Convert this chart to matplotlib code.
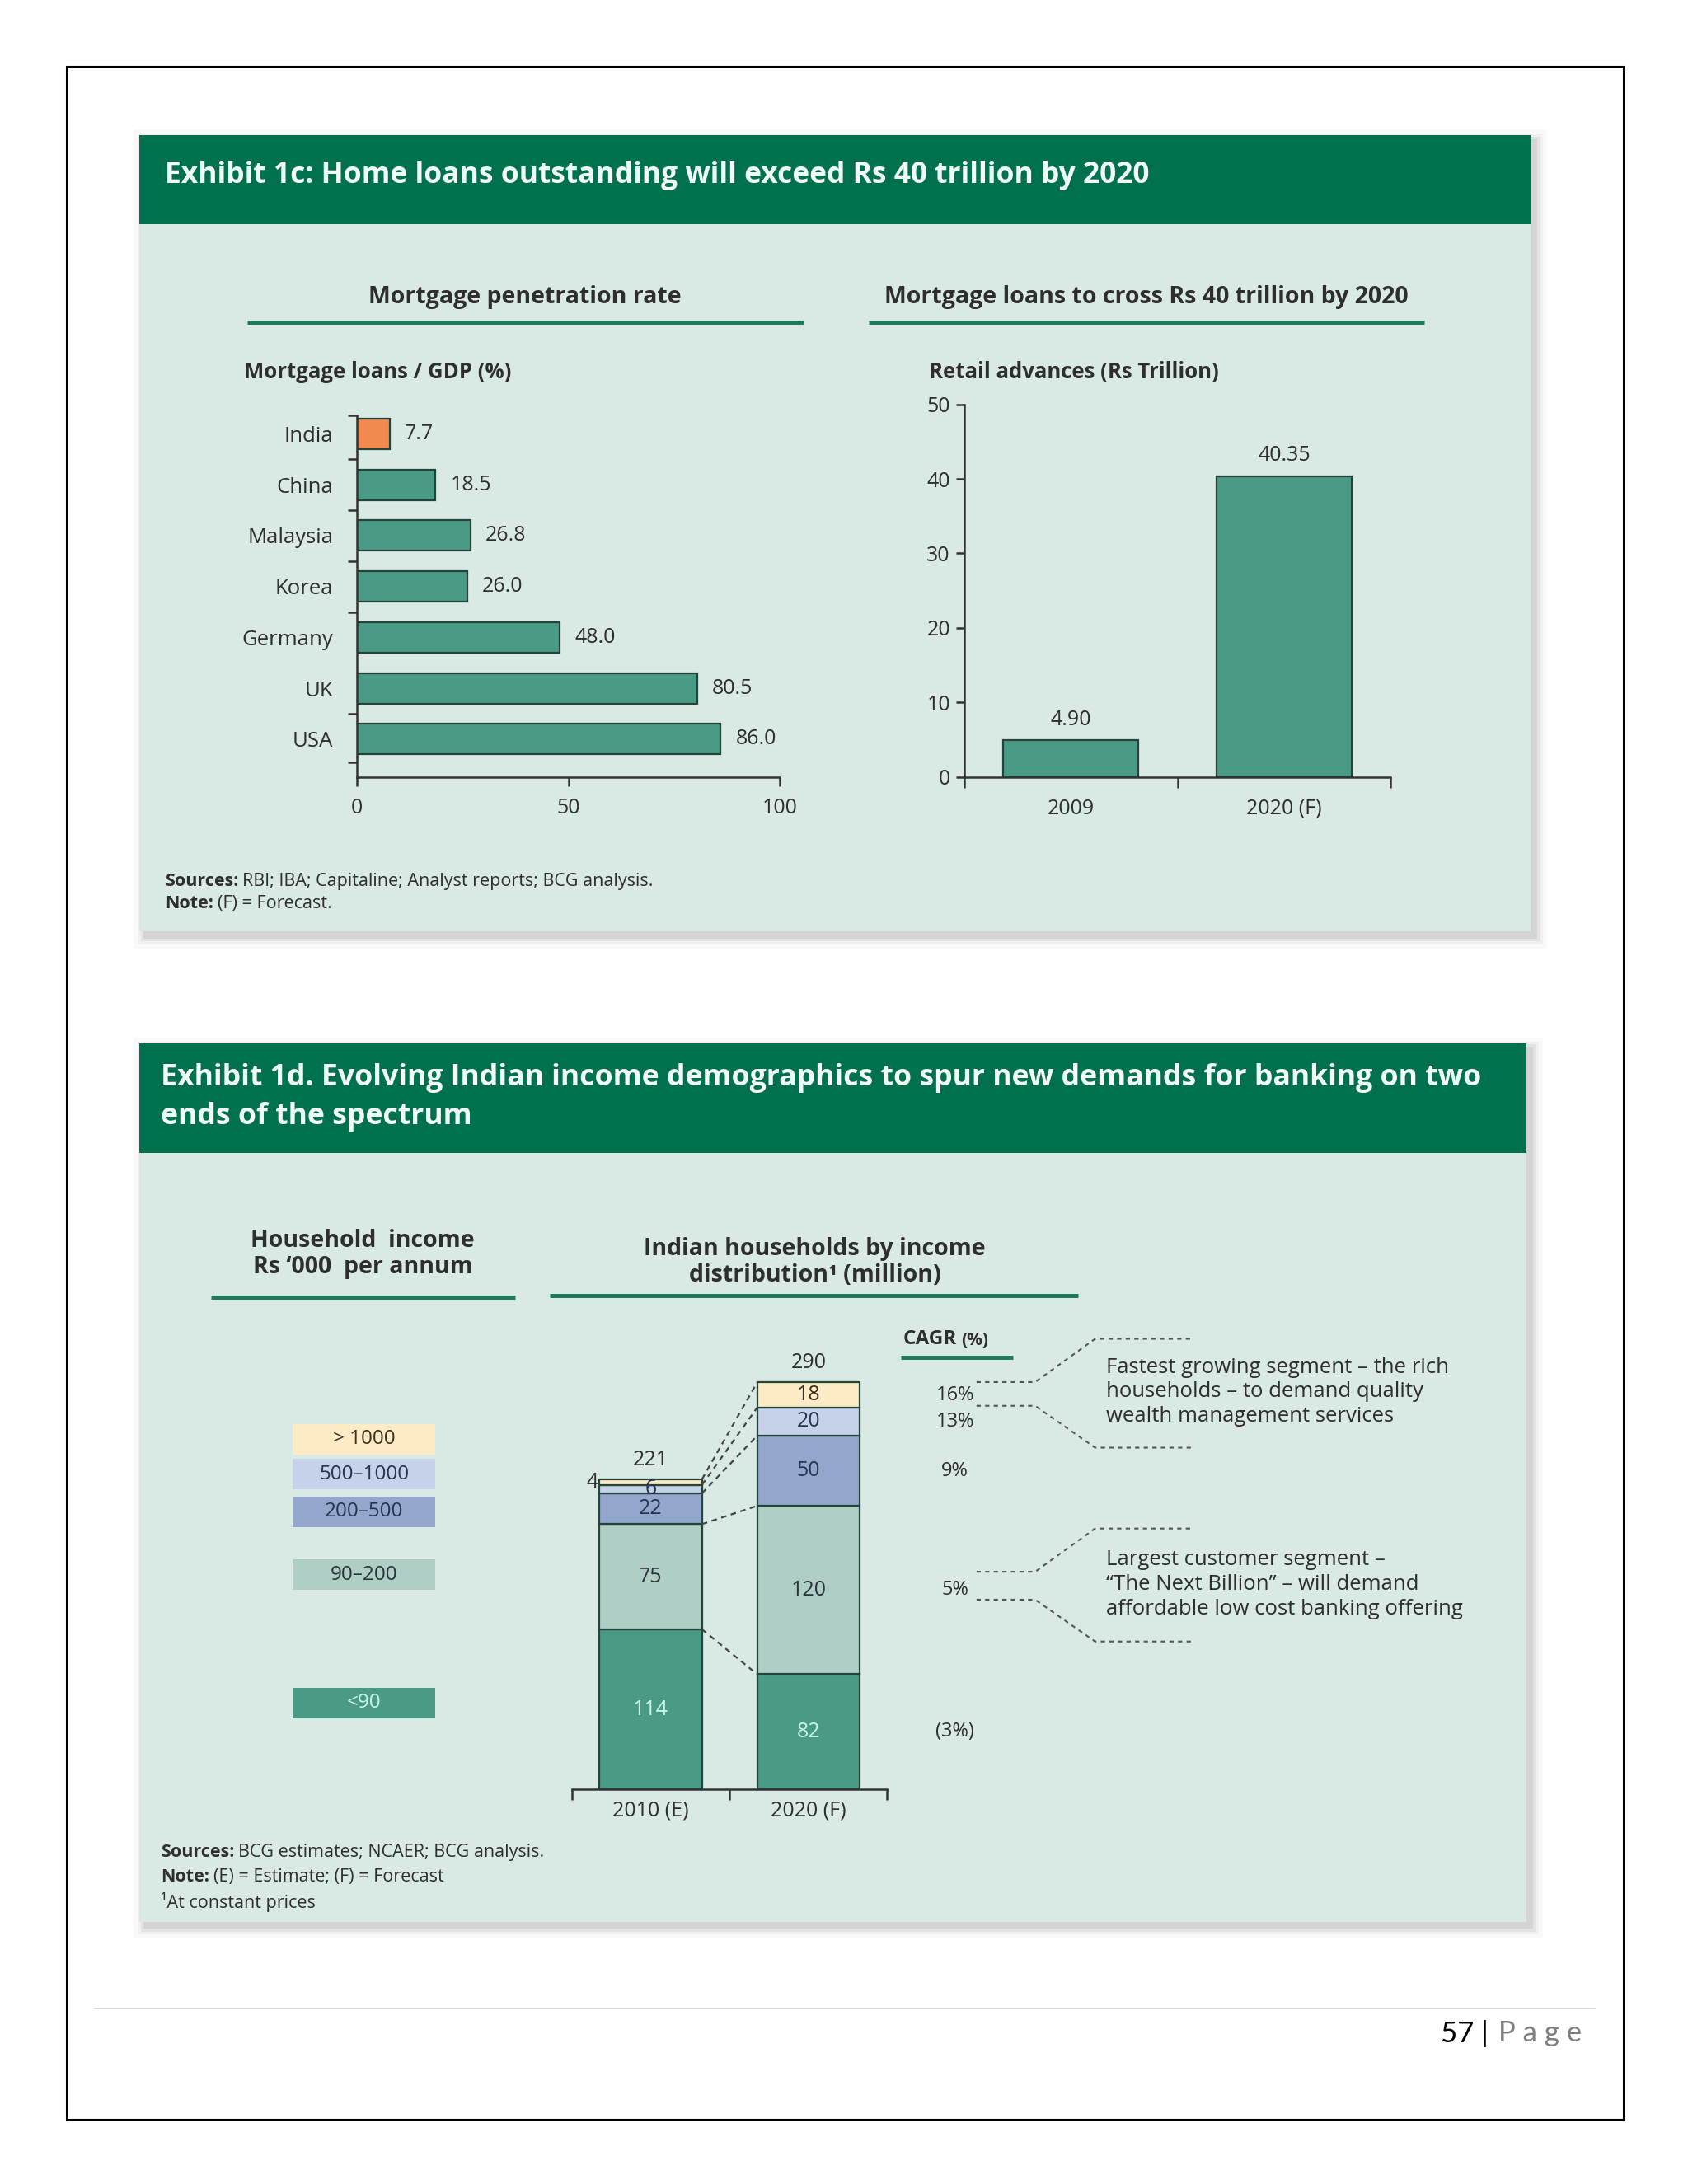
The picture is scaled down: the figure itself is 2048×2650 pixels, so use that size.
import numpy as np
import matplotlib.pyplot as plt
from matplotlib.patches import Rectangle

plt.rcParams['font.family'] = ['Open Sans', 'DejaVu Sans']

#%% data
countries = ['India', 'China', 'Malaysia', 'Korea', 'Germany', 'UK', 'USA']
penetration = [7.7, 18.5, 26.8, 26.0, 48.0, 80.5, 86.0]

adv_years = ['2009', '2020 (F)']
retail_adv = [4.90, 40.35]

bands = ['<90', '90–200', '200–500', '500–1000', '> 1000']
hh_years = ['2010 (E)', '2020 (F)']
hh_2010 = [114, 75, 22, 6, 4]
hh_2020 = [82, 120, 50, 20, 18]
cagr = ['(3%)', '5%', '9%', '13%', '16%']

#%% style
W, H = 1210, 1566          # layout units, scaled to 2048x2650 px
HEAD = '#00704f'
PANEL = '#d9e9e3'
TEAL = '#4a9b86'
ORANGE = '#f28a50'
EDGE = '#24443a'
LINE = '#1f7a5b'
TXT = '#2e2e2e'
band_colors = [TEAL, '#afcfc6', '#93a7cd', '#c6d1ea', '#fcebc4']
band_txt = ['#c9f3e6', '#26333a', '#26344f', '#26344f', '#3b3020']
legend_y = [1221, 1129, 1084, 1057, 1032]
FS = 18          # chart labels
FN = 15.5        # source notes

fig = plt.figure(figsize=(20.48, 26.5), dpi=100)
bg = fig.add_axes([0, 0, 1, 1], zorder=0)
bg.set_xlim(0, W)
bg.set_ylim(H, 0)
bg.axis('off')
renderer = fig.canvas.get_renderer()


def sub(x0, y0, x1, y1):
    a = fig.add_axes([x0 / W, 1 - y1 / H, (x1 - x0) / W, (y1 - y0) / H], zorder=2)
    a.set_facecolor('none')
    return a


def style_axis(a):
    for s in ['top', 'right']:
        a.spines[s].set_visible(False)
    for s in ['left', 'bottom']:
        a.spines[s].set_linewidth(1.8)
        a.spines[s].set_color('#333333')
    a.tick_params(which='both', width=1.8, color='#333333', labelcolor=TXT, labelsize=FS)


def panel(x0, y0, x1, y1, hy):
    for k, al in [(9, 0.04), (6, 0.07), (4, 0.10), (2, 0.14)]:
        bg.add_patch(Rectangle((x0 - k + 5, y0 - k + 5), x1 - x0 + 2 * k - 2, y1 - y0 + 2 * k - 2,
                               fc='#7a7a7a', ec='none', alpha=al))
    bg.add_patch(Rectangle((x0, y0), x1 - x0, y1 - y0, fc=PANEL, ec='none'))
    bg.add_patch(Rectangle((x0, y0), x1 - x0, hy - y0, fc=HEAD, ec='none'))


def mixed(x, y, bold, rest, size=FN):
    t = bg.text(x, y, bold, fontsize=size, fontweight='bold', color=TXT, va='center')
    bb = t.get_window_extent(renderer)
    xe = bg.transData.inverted().transform((bb.x1, bb.y0))[0]
    bg.text(xe + 3, y, rest, fontsize=size, color=TXT, va='center')


def underline(x0, x1, y):
    bg.plot([x0, x1], [y, y], color=LINE, lw=3.6, solid_capstyle='butt')


# page frame
bg.add_patch(Rectangle((48, 48), 1116, 1472, fill=False, ec='black', lw=1.5))

#%% Exhibit 1c
panel(100, 97, 1097, 668, 161)
bg.text(118, 126, 'Exhibit 1c: Home loans outstanding will exceed Rs 40 trillion by 2020',
        fontsize=25.5, fontweight='bold', color='#f0fbf5', va='center')
bg.text(376, 213, 'Mortgage penetration rate', fontsize=20.5, fontweight='bold', color=TXT,
        ha='center', va='center')
underline(177, 576, 231)
bg.text(822, 213, 'Mortgage loans to cross Rs 40 trillion by 2020', fontsize=20.5,
        fontweight='bold', color=TXT, ha='center', va='center')
underline(623, 1021, 231)
bg.text(175, 267, 'Mortgage loans / GDP (%)', fontsize=18.5, fontweight='bold', color=TXT, va='center')
bg.text(666, 267, 'Retail advances (Rs Trillion)', fontsize=18.5, fontweight='bold', color=TXT,
        va='center')

# penetration bars
ax1 = sub(256, 298, 559, 557)
style_axis(ax1)
ypos = np.arange(len(countries))
bar_cols = [ORANGE] + [TEAL] * (len(countries) - 1)
b1 = ax1.barh(ypos, penetration, height=0.6, color=bar_cols, edgecolor=EDGE, lw=1.6)
ax1.bar_label(b1, labels=[f'{v:.1f}' for v in penetration], padding=13, fontsize=FS, color=TXT)
ax1.set_xlim(0, 100)
ax1.set_ylim(6.74, -0.36)
ax1.set_yticks(ypos)
ax1.set_yticklabels(countries, fontsize=18.5)
ax1.set_yticks([-0.36, 0.5, 1.5, 2.5, 3.5, 5.5, 6.45], minor=True)
ax1.tick_params(axis='y', which='major', length=0, pad=21)
ax1.tick_params(axis='y', which='minor', length=8, direction='out')
ax1.set_xticks([0, 50, 100])
ax1.tick_params(axis='x', length=8, direction='out', pad=10)

# retail advances bars
ax2 = sub(691, 290, 997, 557)
style_axis(ax2)
xpos = np.arange(len(adv_years))
b2 = ax2.bar(xpos, retail_adv, width=0.63, color=TEAL, edgecolor=EDGE, lw=1.6)
ax2.bar_label(b2, labels=[f'{v:.2f}' for v in retail_adv], padding=9, fontsize=FS, color=TXT)
ax2.set_xlim(-0.5, 1.5)
ax2.set_ylim(0, 50)
ax2.set_yticks(np.arange(0, 51, 10))
ax2.tick_params(axis='y', length=7, direction='out', pad=5)
ax2.set_xticks(xpos)
ax2.set_xticklabels(adv_years, fontsize=FS)
ax2.set_xticks([-0.5, 0.5, 1.5], minor=True)
ax2.tick_params(axis='x', which='major', length=0, pad=19)
ax2.tick_params(axis='x', which='minor', length=9, direction='out')

mixed(118, 632, 'Sources:', 'RBI; IBA; Capitaline; Analyst reports; BCG analysis.')
mixed(118, 648, 'Note:', '(F) = Forecast.')

#%% Exhibit 1d
panel(100, 748, 1094, 1378, 827)
bg.text(115, 773, 'Exhibit 1d. Evolving Indian income demographics to spur new demands for banking on two',
        fontsize=25.7, fontweight='bold', color='#f0fbf5', va='center')
bg.text(115, 801, 'ends of the spectrum', fontsize=25.7, fontweight='bold', color='#f0fbf5', va='center')

bg.text(260, 899, 'Household  income\nRs ‘000  per annum', fontsize=20.5, fontweight='bold',
        color=TXT, ha='center', va='center', linespacing=1.15)
underline(151, 369, 930)
bg.text(584, 905, 'Indian households by income\ndistribution¹ (million)', fontsize=20.5,
        fontweight='bold', color=TXT, ha='center', va='center', linespacing=1.15)
underline(394, 773, 929)

# income band legend
for lab, col, tc, yc in zip(bands, band_colors, band_txt, legend_y):
    bg.add_patch(Rectangle((210, yc - 11), 102, 22, fc=col, ec='none'))
    bg.text(261, yc, lab, fontsize=17.5, color=tc, ha='center', va='center')

# stacked households
ax3 = sub(410, 960, 636, 1283)
for s in ['top', 'right', 'left']:
    ax3.spines[s].set_visible(False)
ax3.spines['bottom'].set_linewidth(1.8)
ax3.spines['bottom'].set_color('#333333')
ax3.set_xlim(-0.5, 1.5)
ax3.set_ylim(0, 321)
ax3.set_yticks([])
bw = 0.65
bot10 = np.concatenate([[0], np.cumsum(hh_2010)[:-1]])
bot20 = np.concatenate([[0], np.cumsum(hh_2020)[:-1]])
top10 = np.cumsum(hh_2010)
top20 = np.cumsum(hh_2020)
for i in range(len(bands)):
    ax3.bar([0, 1], [hh_2010[i], hh_2020[i]], bottom=[bot10[i], bot20[i]], width=bw,
            color=band_colors[i], edgecolor=EDGE, lw=1.6)
    if i < len(bands) - 1:
        ax3.text(0, bot10[i] + hh_2010[i] / 2, str(hh_2010[i]), ha='center', va='center',
                 fontsize=FS, color=band_txt[i])
    else:
        ax3.annotate(str(hh_2010[i]), (-bw / 2, bot10[i] + hh_2010[i] / 2), xytext=(-1, 0),
                     textcoords='offset points', ha='right', va='center', fontsize=FS, color=TXT)
    ax3.text(1, bot20[i] + hh_2020[i] / 2, str(hh_2020[i]), ha='center', va='center',
             fontsize=FS, color=band_txt[i])
    ax3.plot([bw / 2, 1 - bw / 2], [top10[i], top20[i]], ls=(0, (3, 2.5)), color='#444444',
             lw=1.6, clip_on=False)
    ax3.text(1.93, bot20[i] + hh_2020[i] / 2, cagr[i], ha='center', va='center', fontsize=17,
             color=TXT, clip_on=False)
for x, tot in zip([0, 1], [top10[-1], top20[-1]]):
    ax3.annotate(str(tot), (x, tot), xytext=(0, 8), textcoords='offset points', ha='center',
                 va='bottom', fontsize=FS, color=TXT)
ax3.set_xticks([0, 1])
ax3.set_xticklabels(hh_years, fontsize=FS, color=TXT)
ax3.set_xticks([-0.5, 0.5, 1.5], minor=True)
ax3.tick_params(axis='x', which='major', length=0, pad=10)
ax3.tick_params(axis='x', which='minor', length=9, width=1.8, direction='out', color='#333333')

# CAGR heading and brackets
bg.text(686, 960, 'CAGR', fontsize=17.5, fontweight='bold', color=TXT, ha='right', va='center')
bg.text(689, 961, '(%)', fontsize=15, fontweight='bold', color=TXT, ha='left', va='center')
underline(646, 726, 973)
dash = dict(ls=(0, (2.5, 2.5)), color='#555555', lw=1.5)
for ya, yb, yt, ybm in [(991, 1008, 960, 1038), (1127, 1147, 1096, 1177)]:
    bg.plot([700, 742, 785, 855], [ya, ya, yt, yt], **dash)
    bg.plot([700, 742, 785, 855], [yb, yb, ybm, ybm], **dash)
bg.text(793, 998, 'Fastest growing segment – the rich\nhouseholds – to demand quality\n'
        'wealth management services', fontsize=18.5, color=TXT, va='center', linespacing=1.25)
bg.text(793, 1136, 'Largest customer segment –\n“The Next Billion” – will demand\n'
        'affordable low cost banking offering', fontsize=18.5, color=TXT, va='center',
        linespacing=1.25)

mixed(115, 1328, 'Sources:', 'BCG estimates; NCAER; BCG analysis.')
mixed(115, 1346, 'Note:', '(E) = Estimate; (F) = Forecast')
bg.text(115, 1364, '¹At constant prices', fontsize=FN, color=TXT, va='center')

#%% page footer
bg.plot([68, 1143], [1440, 1440], color='#d4d4d4', lw=1.2)
pg = bg.text(1134, 1458, 'P a g e', fontsize=25, color='#7f7f7f', ha='right', va='center',
             family=['Lato', 'DejaVu Sans'])
bb = pg.get_window_extent(renderer)
xl = bg.transData.inverted().transform((bb.x0, bb.y0))[0]
bg.text(xl - 2, 1458, '57 | ', fontsize=25, color='black', ha='right', va='center',
        family=['Lato', 'DejaVu Sans'])

fig.savefig('out.png', dpi=100, facecolor='white')
